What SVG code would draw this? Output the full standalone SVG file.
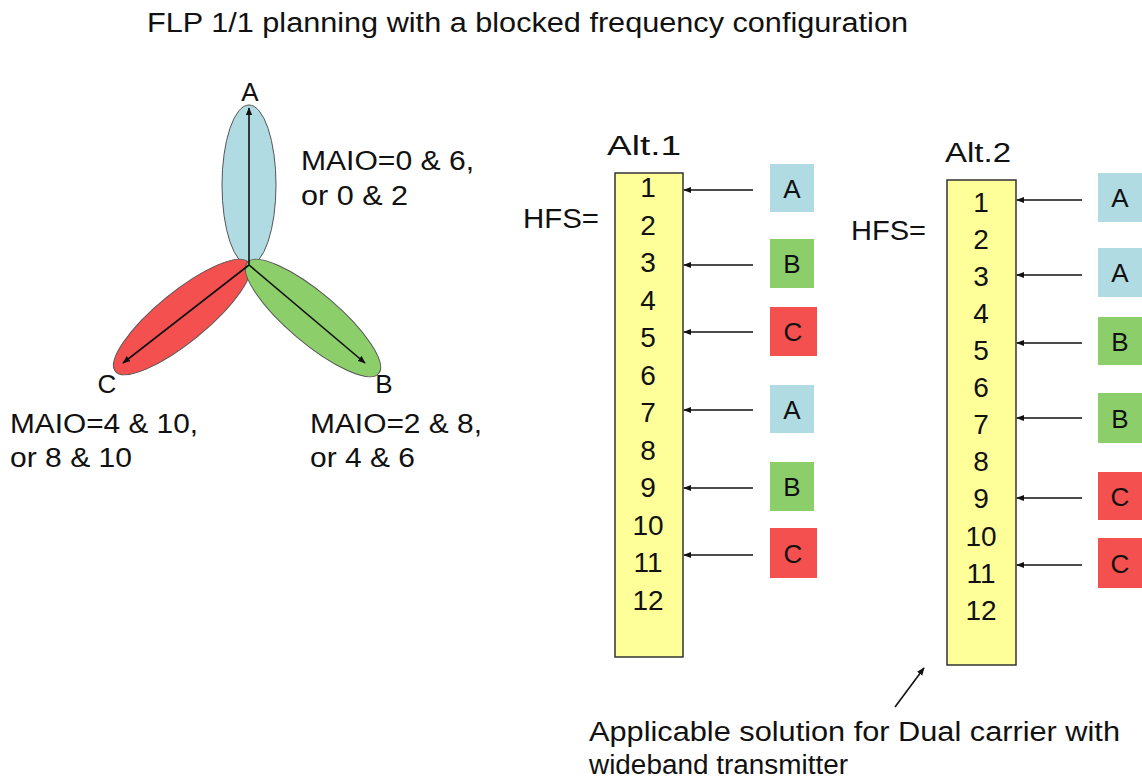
<svg xmlns="http://www.w3.org/2000/svg" width="1142" height="781" viewBox="0 0 1142 781">
<style>
text{font-family:"Liberation Sans",Arial,sans-serif;fill:#111}
.t{font-size:27px}
.n{font-size:28px;text-anchor:middle}
.s{font-size:26px;text-anchor:middle}
.box{fill:#ffff99;stroke:#333;stroke-width:1.5}
.a{fill:#b0dbe3}
.b{fill:#8ccf6a}
.c{fill:#f4504f}
.lobe{stroke:#555;stroke-width:1}
.con{stroke:#111;stroke-width:1.6;fill:none}
</style>
<defs>
<marker id="ah" viewBox="0 0 10 10" refX="9" refY="5" markerWidth="8" markerHeight="8" orient="auto" markerUnits="userSpaceOnUse">
<path d="M0,1 L10,5 L0,9 z" fill="#111"/>
</marker>
</defs>
<rect width="1142" height="781" fill="#fff"/>
<text class="t" x="147" y="32" textLength="761" lengthAdjust="spacingAndGlyphs">FLP 1/1 planning with a blocked frequency configuration</text>

<g id="antenna">
<ellipse id="lobeA" class="lobe a" cx="249" cy="185" rx="27" ry="80"/>
<ellipse id="lobeC" class="lobe c" cx="182" cy="317" rx="86" ry="25" transform="rotate(-39.2 182 317)"/>
<ellipse id="lobeB" class="lobe b" cx="313" cy="318" rx="86" ry="25" transform="rotate(40.2 313 318)"/>
<line class="con" x1="249" y1="265" x2="249" y2="108" marker-end="url(#ah)"/>
<line class="con" x1="249" y1="265" x2="365" y2="363" marker-end="url(#ah)"/>
<line class="con" x1="249" y1="265" x2="123" y2="363" marker-end="url(#ah)"/>
<text class="s" x="250" y="101">A</text>
<text class="s" x="107" y="393">C</text>
<text class="s" x="384" y="393">B</text>
<text class="t" x="301" y="170" textLength="173" lengthAdjust="spacingAndGlyphs">MAIO=0 &amp; 6,</text>
<text class="t" x="301" y="205" textLength="107" lengthAdjust="spacingAndGlyphs">or 0 &amp; 2</text>
<text class="t" x="10" y="433" textLength="188" lengthAdjust="spacingAndGlyphs">MAIO=4 &amp; 10,</text>
<text class="t" x="10" y="467" textLength="122" lengthAdjust="spacingAndGlyphs">or 8 &amp; 10</text>
<text class="t" x="310" y="433" textLength="172" lengthAdjust="spacingAndGlyphs">MAIO=2 &amp; 8,</text>
<text class="t" x="310" y="467" textLength="105" lengthAdjust="spacingAndGlyphs">or 4 &amp; 6</text>
</g>

<g id="alt1">
<text class="t" x="607" y="155" textLength="74" lengthAdjust="spacingAndGlyphs">Alt.1</text>
<text class="t" x="523" y="228" textLength="76" lengthAdjust="spacingAndGlyphs">HFS=</text>
<rect class="box" x="615" y="173" width="68" height="484"/>
<g class="nums">
<text class="n" x="648" y="197">1</text>
<text class="n" x="648" y="234.5">2</text>
<text class="n" x="648" y="272">3</text>
<text class="n" x="648" y="309.5">4</text>
<text class="n" x="648" y="347">5</text>
<text class="n" x="648" y="384.5">6</text>
<text class="n" x="648" y="422">7</text>
<text class="n" x="648" y="459.5">8</text>
<text class="n" x="648" y="497">9</text>
<text class="n" x="648" y="534.5">10</text>
<text class="n" x="648" y="572">11</text>
<text class="n" x="648" y="609.5">12</text>
</g>
</g>
<g id="alt1-sq">
<g id="a1A1"><rect class="a" x="770" y="164" width="44" height="48"/><text class="s" x="792" y="198">A</text></g>
<g id="a1B1"><rect class="b" x="770" y="239" width="44" height="49"/><text class="s" x="792" y="273">B</text></g>
<g id="a1C1"><rect class="c" x="770" y="307" width="47" height="49"/><text class="s" x="793" y="341">C</text></g>
<g id="a1A2"><rect class="a" x="770" y="385" width="44" height="48"/><text class="s" x="792" y="419">A</text></g>
<g id="a1B2"><rect class="b" x="770" y="462" width="44" height="49"/><text class="s" x="792" y="496">B</text></g>
<g id="a1C2"><rect class="c" x="770" y="528" width="47" height="50"/><text class="s" x="793" y="563">C</text></g>
</g>

<g id="alt2">
<text class="t" x="945" y="162" textLength="66" lengthAdjust="spacingAndGlyphs">Alt.2</text>
<text class="t" x="851" y="240" textLength="75" lengthAdjust="spacingAndGlyphs">HFS=</text>
<rect class="box" x="947" y="180" width="69" height="485"/>
<g class="nums">
<text class="n" x="981" y="212">1</text>
<text class="n" x="981" y="249">2</text>
<text class="n" x="981" y="286">3</text>
<text class="n" x="981" y="323">4</text>
<text class="n" x="981" y="360">5</text>
<text class="n" x="981" y="397">6</text>
<text class="n" x="981" y="434">7</text>
<text class="n" x="981" y="471">8</text>
<text class="n" x="981" y="508">9</text>
<text class="n" x="981" y="546">10</text>
<text class="n" x="981" y="583">11</text>
<text class="n" x="981" y="620">12</text>
</g>
</g>
<g id="alt2-sq">
<g id="a2A1"><rect class="a" x="1098" y="173" width="50" height="49"/><text class="s" x="1120" y="207">A</text></g>
<g id="a2A2"><rect class="a" x="1098" y="248" width="50" height="49"/><text class="s" x="1120" y="282">A</text></g>
<g id="a2B1"><rect class="b" x="1098" y="317" width="50" height="48"/><text class="s" x="1120" y="351">B</text></g>
<g id="a2B2"><rect class="b" x="1098" y="393" width="50" height="50"/><text class="s" x="1120" y="428">B</text></g>
<g id="a2C1"><rect class="c" x="1098" y="472" width="50" height="48"/><text class="s" x="1120" y="506">C</text></g>
<g id="a2C2"><rect class="c" x="1098" y="538" width="50" height="50"/><text class="s" x="1120" y="573">C</text></g>
</g>

<g id="note">
<text class="t" x="589" y="741" textLength="531" lengthAdjust="spacingAndGlyphs">Applicable solution for Dual carrier with</text>
<text class="t" x="589" y="774" textLength="259" lengthAdjust="spacingAndGlyphs">wideband transmitter</text>
</g>

<g id="connectors">
<line class="con" x1="753" y1="190" x2="684" y2="190" marker-end="url(#ah)"/>
<line class="con" x1="753" y1="265" x2="684" y2="265" marker-end="url(#ah)"/>
<line class="con" x1="753" y1="332" x2="684" y2="332" marker-end="url(#ah)"/>
<line class="con" x1="753" y1="410" x2="684" y2="410" marker-end="url(#ah)"/>
<line class="con" x1="753" y1="488" x2="684" y2="488" marker-end="url(#ah)"/>
<line class="con" x1="753" y1="555" x2="684" y2="555" marker-end="url(#ah)"/>
<line class="con" x1="1082" y1="200" x2="1017" y2="200" marker-end="url(#ah)"/>
<line class="con" x1="1082" y1="275" x2="1017" y2="275" marker-end="url(#ah)"/>
<line class="con" x1="1082" y1="343" x2="1017" y2="343" marker-end="url(#ah)"/>
<line class="con" x1="1082" y1="418" x2="1017" y2="418" marker-end="url(#ah)"/>
<line class="con" x1="1082" y1="498" x2="1017" y2="498" marker-end="url(#ah)"/>
<line class="con" x1="1082" y1="565" x2="1017" y2="565" marker-end="url(#ah)"/>
<line class="con" x1="895" y1="707" x2="924" y2="668" marker-end="url(#ah)"/>
</g>
</svg>
